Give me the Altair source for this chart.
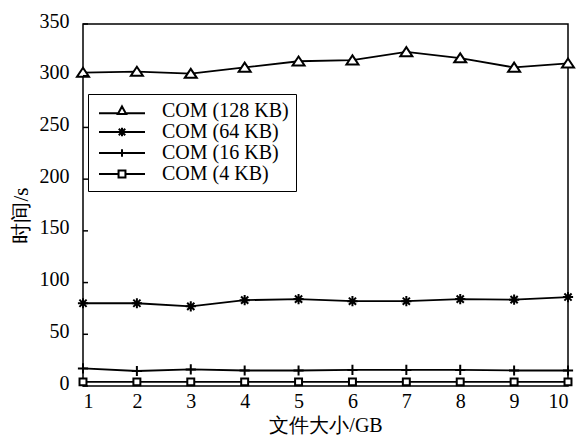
import altair as alt
import pandas as pd

sizes_gb = [1, 2, 3, 4, 5, 6, 7, 8, 9, 10]
series_names = ["COM (128 KB)", "COM (64 KB)", "COM (16 KB)", "COM (4 KB)"]
com_128 = [303, 304, 302, 308, 314, 315, 323, 317, 308, 312]
com_64 = [80, 80, 77, 83, 84, 82, 82, 84, 83.5, 86]
com_16 = [17, 14.5, 16, 15, 15, 15.5, 15.5, 15.5, 15, 15]
com_4 = [4, 4, 4, 4, 4, 4, 4, 4, 4, 4]
y_ticks = [0, 50, 100, 150, 200, 250, 300, 350]

rows = []
for name, vals in zip(series_names, [com_128, com_64, com_16, com_4]):
    for x, v in zip(sizes_gb, vals):
        rows.append({"size": x, "time": v, "series": name})
df = pd.DataFrame(rows)
ticks_df = pd.DataFrame({"t": y_ticks})

FONT = "Liberation Serif"

point_paths = [
    "M0,-0.8L1,0.7L-1,0.7Z",
    "M-0.85,0L0.85,0M0,-0.85L0,0.85M-0.6,-0.6L0.6,0.6M-0.6,0.6L0.6,-0.6",
    "M-0.85,0L0.85,0M0,-0.85L0,0.85",
    "M-0.58,-0.58L0.58,-0.58L0.58,0.58L-0.58,0.58Z",
]
# legend symbols: line segment plus a small marker (unit = half of the 46 px symbol)
legend_paths = [
    "M-1,0.1L-0.16,0.1M0.16,0.1L1,0.1M0,-0.2L0.18,0.13L-0.18,0.13Z",
    "M-1,0L1,0M0,-0.19L0,0.19M-0.14,-0.14L0.14,0.14M-0.14,0.14L0.14,-0.14",
    "M-1,0L1,0M0,-0.16L0,0.16",
    "M-1,0L-0.15,0M0.15,0L1,0M-0.15,-0.15L0.15,-0.15L0.15,0.15L-0.15,0.15Z",
]

x_enc = alt.X("size:Q", scale=alt.Scale(domain=[1, 10], nice=False, zero=False),
              axis=alt.Axis(values=sizes_gb, format="d", title="文件大小/GB", grid=False,
                            domain=False, ticks=False, labelPadding=5, titlePadding=4))
y_enc = alt.Y("time:Q", scale=alt.Scale(domain=[0, 350], nice=False),
              axis=alt.Axis(values=y_ticks, title="时间/s", grid=False, domain=False,
                            ticks=False, labelPadding=14, labelOffset=-3, titlePadding=8,
                            titleY=191, titleFontSize=21))

lines = alt.Chart(df).mark_line(color="black", strokeWidth=1.8).encode(
    x=x_enc, y=y_enc, detail="series:N")

points = alt.Chart(df).mark_point(filled=True, fill="white", stroke="black",
                                  strokeWidth=2, opacity=1, size=144).encode(
    x="size:Q", y="time:Q",
    shape=alt.Shape("series:N", scale=alt.Scale(domain=series_names, range=point_paths),
                    legend=None))

legend_layer = alt.Chart(df).mark_point(opacity=0).encode(
    x="size:Q", y="time:Q",
    shape=alt.Shape("series:N", scale=alt.Scale(domain=series_names, range=legend_paths),
                    legend=alt.Legend(title=None, orient="none", legendX=5, legendY=70,
                                      fillColor="white", strokeColor="black",
                                      padding=7, labelFont=FONT, labelFontSize=20,
                                      labelColor="black", labelExpr="datum.label + '   '",
                                      symbolSize=2116, symbolStrokeWidth=2,
                                      symbolStrokeColor="black", symbolFillColor="white",
                                      symbolOpacity=1, symbolOffset=3, clipHeight=20,
                                      labelOffset=16, rowPadding=1)))

tick_rules = alt.Chart(ticks_df).mark_rule(color="black", strokeWidth=1.5).encode(
    y="t:Q", x=alt.value(0), x2=alt.value(5))

chart = alt.layer(lines, points, legend_layer, tick_rules).resolve_scale(
    shape="independent"
).properties(
    width=485, height=362,
    autosize=alt.AutoSizeParams(type="none"),
    padding={"left": 83, "top": 24, "right": 12, "bottom": 50},
).configure_view(
    stroke="black", strokeWidth=1.5
).configure_axis(
    labelFont=FONT, labelFontSize=20, labelColor="black",
    titleFont=FONT, titleFontSize=20, titleColor="black", titleFontWeight="normal"
)

chart.save("out.html", embed_options={"renderer": "svg", "actions": False})
